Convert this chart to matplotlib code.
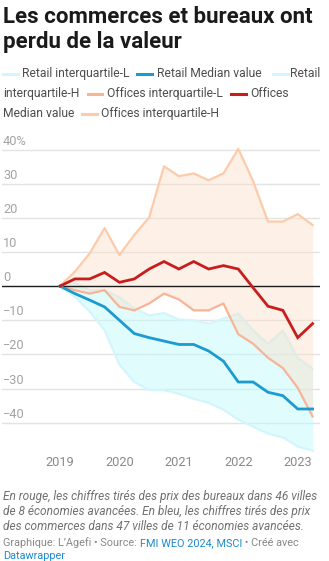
import matplotlib
matplotlib.use("Agg")
import matplotlib.pyplot as plt
from matplotlib import transforms

plt.rcParams['font.family'] = ['Roboto', 'DejaVu Sans']

# Quarterly index, 2019 Q1 .. 2023 Q2 (change vs. 2019 Q1, %)
quarters = [2019.0, 2019.25, 2019.5, 2019.75, 2020.0, 2020.25, 2020.5, 2020.75,
            2021.0, 2021.25, 2021.5, 2021.75, 2022.0, 2022.25, 2022.5, 2022.75,
            2023.0, 2023.25]

retail_iq_low = [0, -3.1, -7.5, -12.9, -23, -28.1, -30.4, -30.5, -31.5, -33, -34.2,
                 -36.2, -39.1, -41.2, -43.2, -44.3, -47, -48.2]
retail_median = [0, -2.2, -4.1, -6.1, -10, -13.9, -15.1, -16.1, -17.1, -17.1, -19,
                 -22, -28.1, -28.1, -31.1, -32.1, -36, -36]
retail_iq_high = [0, 1, -1.2, -1.2, -3.3, -6.5, -8.6, -7.9, -9.8, -10, -11, -9.5,
                  -8, -13, -16.9, -13, -21, -24.2]

offices_iq_low = [0, -1.2, -2.2, -1.2, -6.1, -7.1, -5.1, -2.2, -3.9, -7.1, -7.1,
                  -5.1, -14.1, -16.9, -21, -24, -29.8, -38.2]
offices_median = [0, 2.1, 2.1, 4, 1.1, 2.1, 5, 7.2, 5, 7.2, 5, 6, 5, -0.5, -5.9,
                  -7.1, -15.1, -11]
offices_iq_high = [0, 4.2, 9.6, 17, 9.1, 15, 20.1, 35.1, 32.2, 33, 31, 33, 40.2,
                   30.7, 18.9, 18.9, 21.1, 17.9]

y_ticks = [40, 30, 20, 10, 0, -10, -20, -30, -40]
y_labels = ["40%", "30", "20", "10", "0", "\u221210", "\u221220", "\u221230", "\u221240"]
x_ticks = [2019, 2020, 2021, 2022, 2023]
x_labels = ["2019", "2020", "2021", "2022", "2023"]

title = "Les commerces et bureaux ont\nperdu de la valeur"
caption = ("En rouge, les chiffres tirés des prix des bureaux dans 46 villes\n"
           "de 8 économies avancées. En bleu, les chiffres tirés des prix\n"
           "des commerces dans 47 villes de 11 économies avancées.")

C_RET_EDGE = "#d2f6fb"
C_RET_FILL = "#c2fbfd"
C_RET_MED = "#1b9bcf"
C_OFF_LOW = "#f9b497"
C_OFF_HIGH = "#fdcbaa"
C_OFF_FILL = "#fadec9"
C_OFF_MED = "#c71e1d"

W, H = 329, 561
fig = plt.figure(figsize=(W / 100, H / 100), dpi=100)


def px(x, y):
    """pixel position (from top-left) -> figure fraction"""
    return x / W, 1 - y / H


# plot area in pixels
ax_l, ax_r, ax_t, ax_b = 2, 320, 140, 452
ax = fig.add_axes([ax_l / W, 1 - ax_b / H, (ax_r - ax_l) / W, (ax_b - ax_t) / H])
ax.set_xlim(2018.024, 2023.375)
ax.set_ylim(-48.6, 42.8)
ax.axis("off")

# grid
for v in y_ticks:
    if v != 0:
        ax.axhline(v, color="#e3e3e3", lw=1.0, zorder=0)

# retail band
ax.fill_between(quarters, retail_iq_low, retail_iq_high, color=C_RET_FILL,
                alpha=0.5, lw=0, zorder=1)
ax.plot(quarters, retail_iq_low, color=C_RET_EDGE, lw=1.6, zorder=2)
ax.plot(quarters, retail_iq_high, color=C_RET_EDGE, lw=1.6, zorder=2)

# offices band
ax.fill_between(quarters, offices_iq_low, offices_iq_high, color=C_OFF_FILL,
                alpha=0.43, lw=0, zorder=3)
ax.plot(quarters, offices_iq_low, color=C_OFF_LOW, lw=1.6, zorder=4)
ax.plot(quarters, offices_iq_high, color=C_OFF_HIGH, lw=1.6, zorder=4)

ax.axhline(0, color="#1a1a1a", lw=1.0, zorder=5)

ax.plot(quarters, retail_median, color=C_RET_MED, lw=2.0, zorder=6,
        solid_joinstyle="miter")
ax.plot(quarters, offices_median, color=C_OFF_MED, lw=2.0, zorder=6,
        solid_joinstyle="miter")

# y labels sit above their gridline
lab_tr = transforms.offset_copy(ax.transData, fig=fig, x=0, y=8.5, units="dots")
for v, s in zip(y_ticks, y_labels):
    ax.text(2018.04, v, s, transform=lab_tr, ha="left", va="center",
            fontsize=9.2, color="#a3a3a3")

# x labels
for v, s in zip(x_ticks, x_labels):
    xp = ax.transData.transform((v, 0))[0] / W
    fig.text(xp, 1 - 462.5 / H, s, ha="center", va="center", fontsize=9.2,
             color="#8a8a8a")

# title
fig.text(*px(3, 6), title, ha="left", va="top", fontsize=16.0, fontweight="bold",
         color="#1a1a1a", linespacing=1.2)

# legend, wrapped onto three rows
leg_rows = [
    [(3, 21.5, C_RET_EDGE, "Retail interquartile-L"),
     (137, 157, C_RET_MED, "Retail Median value"),
     (273, 290, C_RET_EDGE, "Retail")],
    [(None, 3, None, "interquartile-H"),
     (88, 107, C_OFF_LOW, "Offices interquartile-L"),
     (231, 250, C_OFF_MED, "Offices")],
    [(None, 3, None, "Median value"),
     (82, 101, C_OFF_HIGH, "Offices interquartile-H")],
]
row_y = [73.5, 93.5, 113.5]
for ry, row in zip(row_y, leg_rows):
    for lx, tx, col, s in row:
        if lx is not None:
            x0, y0 = px(lx, ry)
            x1, _ = px(lx + 14.5, ry)
            fig.add_artist(plt.Line2D([x0, x1], [y0, y0], color=col, lw=2.2,
                                      transform=fig.transFigure))
        fig.text(*px(tx, ry), s, ha="left", va="center", fontsize=8.7,
                 color="#4d4d4d")

# caption
fig.text(*px(3, 490), caption, ha="left", va="top", fontsize=8.6,
         style="italic", color="#707070", linespacing=1.2)

# source line
src_parts = [("Graphique: L\u2019Agefi \u2022 Source: ", "#888888"),
             ("FMI WEO 2024, MSCI", "#1c8bcf"),
             (" \u2022 Créé avec", "#888888")]
xcur = 3
renderer = fig.canvas.get_renderer()
for s, col in src_parts:
    t = fig.text(*px(xcur, 543), s, ha="left", va="center", fontsize=7.8, color=col)
    bb = t.get_window_extent(renderer=renderer)
    xcur += bb.width
fig.text(*px(3, 556), "Datawrapper", ha="left", va="center", fontsize=7.8,
         color="#1c8bcf")

fig.savefig("out.png", dpi=100, facecolor="white")
